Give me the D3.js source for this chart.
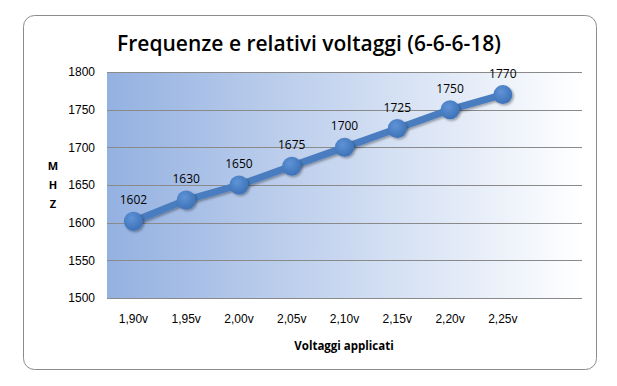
<!DOCTYPE html>
<html>
<head>
<meta charset="utf-8">
<script src="https://d3js.org/d3.v7.min.js"></script>
<style>
body { margin: 0; background: #fff; font-family: 'Open Sans', 'DejaVu Sans', sans-serif; }
svg { display: block; }
.tick text { font-size: 12px; fill: #000; }
</style>
</head>
<body>
<div id="chart"></div>
<script>
var categories = ["1,90v", "1,95v", "2,00v", "2,05v", "2,10v", "2,15v", "2,20v", "2,25v"];
var frequencies = [1602, 1630, 1650, 1675, 1700, 1725, 1750, 1770];
var yTicks = [1500, 1550, 1600, 1650, 1700, 1750, 1800];

var width = 617, height = 386;
var plot = { left: 107, right: 582, top: 72, bottom: 298 };

var svg = d3.select("#chart").append("svg")
  .attr("width", width).attr("height", height);

var defs = svg.append("defs");
var bg = defs.append("linearGradient").attr("id", "bg")
  .attr("x1", "0%").attr("x2", "100%").attr("y1", "0%").attr("y2", "0%");
bg.append("stop").attr("offset", "0%").attr("stop-color", "#94b1e1");
bg.append("stop").attr("offset", "100%").attr("stop-color", "#ffffff");

var dot = defs.append("radialGradient").attr("id", "dot")
  .attr("cx", "40%").attr("cy", "35%").attr("r", "65%");
dot.append("stop").attr("offset", "0%").attr("stop-color", "#5f93d6");
dot.append("stop").attr("offset", "100%").attr("stop-color", "#3d72b8");

var shadow = defs.append("filter").attr("id", "shadow")
  .attr("x", "-50%").attr("y", "-50%").attr("width", "200%").attr("height", "200%");
shadow.append("feDropShadow").attr("dx", 1.5).attr("dy", 1.5)
  .attr("stdDeviation", 1.2).attr("flood-color", "#000").attr("flood-opacity", 0.35);

// outer frame
svg.append("rect")
  .attr("x", 23.5).attr("y", 15.5).attr("width", 573).attr("height", 354)
  .attr("rx", 11).attr("fill", "#fff").attr("stroke", "#8c8c8c").attr("stroke-width", 1);

svg.append("text")
  .attr("x", 309).attr("y", 51)
  .attr("text-anchor", "middle")
  .style("font-family", "'Open Sans', sans-serif")
  .style("font-size", "21px").style("font-weight", "600")
  .text("Frequenze e relativi voltaggi (6-6-6-18)");

// one extra empty slot on the right, as in the original
var x = d3.scaleBand().domain(d3.range(categories.length + 1))
  .range([plot.left, plot.right]);
var y = d3.scaleLinear().domain([1500, 1800]).range([plot.bottom, plot.top]);

svg.append("rect")
  .attr("x", plot.left).attr("y", plot.top)
  .attr("width", plot.right - plot.left).attr("height", plot.bottom - plot.top)
  .attr("fill", "url(#bg)");

svg.selectAll("line.grid").data(yTicks).enter().append("line")
  .attr("class", "grid")
  .attr("x1", plot.left).attr("x2", plot.right)
  .attr("y1", function(d) { return Math.round(y(d)) + 0.5; })
  .attr("y2", function(d) { return Math.round(y(d)) + 0.5; })
  .attr("stroke", "#8a8a8a").attr("stroke-width", 1);

var yAxis = svg.append("g")
  .attr("transform", "translate(" + plot.left + ",0)")
  .call(d3.axisLeft(y).tickValues(yTicks).tickFormat(d3.format("d"))
    .tickSize(0).tickPadding(12));
yAxis.select(".domain").remove();

var xAxis = svg.append("g")
  .attr("transform", "translate(0," + plot.bottom + ")")
  .call(d3.axisBottom(x).tickValues(d3.range(categories.length))
    .tickFormat(function(i) { return categories[i]; })
    .tickSize(0).tickPadding(16));
xAxis.select(".domain").remove();

svg.selectAll("text.ylab").data(["M", "H", "Z"]).enter().append("text")
  .attr("class", "ylab")
  .attr("x", 53).attr("y", function(d, i) { return 170 + i * 19; })
  .attr("text-anchor", "middle")
  .style("font-size", "11px").style("font-weight", "bold")
  .text(function(d) { return d; });

svg.append("text")
  .attr("x", 344).attr("y", 350)
  .attr("text-anchor", "middle")
  .style("font-size", "11.5px").style("font-weight", "bold")
  .text("Voltaggi applicati");

var cx = function(d, i) { return x(i) + x.bandwidth() / 2; };

svg.append("path")
  .datum(frequencies)
  .attr("fill", "none").attr("stroke", "#4a7dbf").attr("stroke-width", 7)
  .attr("stroke-linejoin", "round")
  .attr("filter", "url(#shadow)")
  .attr("d", d3.line().x(cx).y(function(d) { return y(d); }));

svg.selectAll("circle.pt").data(frequencies).enter().append("circle")
  .attr("class", "pt")
  .attr("cx", cx).attr("cy", function(d) { return y(d); })
  .attr("r", 9.5)
  .attr("fill", "url(#dot)")
  .attr("filter", "url(#shadow)");

svg.selectAll("text.val").data(frequencies).enter().append("text")
  .attr("class", "val")
  .attr("x", cx).attr("y", function(d) { return y(d) - 17; })
  .attr("text-anchor", "middle")
  .style("font-size", "12px")
  .text(function(d) { return d; });
</script>
</body>
</html>
